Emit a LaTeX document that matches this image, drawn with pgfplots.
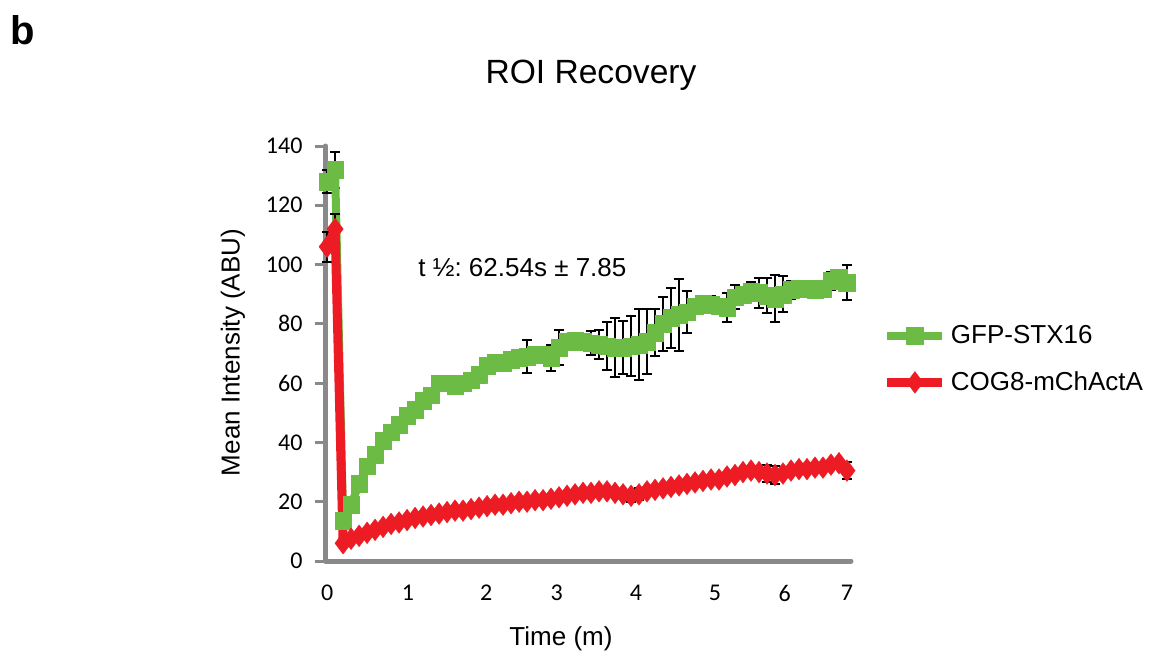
\documentclass[border=0pt]{standalone}
\usepackage{fontspec}
\setmainfont{Liberation Sans}
\newfontfamily\carlito{Carlito}
\usepackage{pgfplots}
\usepackage{pgfplotstable}
\pgfplotsset{compat=1.18}

\definecolor{stxgreen}{RGB}{108,187,69}
\definecolor{cogred}{RGB}{237,28,36}
\definecolor{axgray}{RGB}{137,137,137}

% i = time point index (the sheet's category axis), g/r = mean, ge/re = error
\pgfplotstableread{
i  g     ge   r     re
0  128   4    106   5
1  132   6    112   5
2  13.5  1.5  6     1
3  19    1.5  7.5   1
4  26    1.5  8.5   1
5  32    1.5  9.5   1
6  36    1.5  10.5  1
7  40.5  1.5  11.5  1
8  43.5  1.5  12.5  1
9  46    1.5  13    1
10 49    1.5  13.8  1
11 51    1.5  14.5  1
12 54    1.5  15    1
13 56    1.5  15.5  1
14 60    1.5  16    1
15 60    1.5  16.5  1
16 59    1.5  17    1
17 60    1.5  17    1
18 61    1.5  17.5  1
19 63    1.5  18    1
20 66    1.5  18.5  1
21 67    1.5  19    1
22 67    1.5  19    1
23 68    2    19.5  1
24 68.5  1.5  20    1
25 69    5.5  20    1
26 69.5  1.5  20.5  1
27 69.5  2    20.5  1
28 68.5  4.5  21    1
29 72    6    21.5  1
30 74    1.5  22    1
31 74.5  2    22.5  1
32 74    2    23    1
33 73.5  4    23    1
34 73    5    23.5  1
35 72.5  8    23.5  1
36 72    10   23    1
37 72    9    22.5  1
38 72.5  10   22    2
39 73    12   22.5  2
40 74    11   23.5  1
41 77    8    24    1
42 80    9    24.5  1
43 82    10   25    1
44 83    12   25.5  1
45 84    7    26    1
46 86    2    26.5  1
47 87    2    27    1
48 86.5  3    27.5  1
49 86    2    27.5  1
50 85.5  5    28.5  1
51 89    4    29    1
52 90    2    30    1
53 91    3    30.5  1
54 90.5  5    30    1
55 89.5  6    29.5  3
56 88.5  8    29    3
57 90    6    29.5  1
58 91.5  3    30.5  1
59 92    2    31    1
60 92    2    31    1
61 91.5  2    31.5  1
62 92    2    31.5  1
63 94.5  3    32.5  1
64 95.5  2    33    1
65 94    6    30.5  3
}\roidata

\begin{document}
\begin{tikzpicture}
\path[use as bounding box] (0,0) rectangle (576.5pt,327pt);

\begin{axis}[
  at={(162.75pt,46.5pt)}, anchor=south west,
  scale only axis, width=262.75pt, height=207.5pt,
  xmin=-0.2, xmax=65.5, ymin=0, ymax=140,
  ytick={0,20,...,140},
  xtick={0,10.1,19.9,28.7,38.6,48.5,57.2,65},
  xticklabels={0,1,2,3,4,5,6,7},
  axis x line=bottom, axis y line=left,
  axis line style={-, draw=axgray, line width=2.5pt, line cap=round},
  tick align=outside, major tick length=5.5pt,
  ytick style={draw=axgray, line width=1.5pt},
  xtick style={draw=none},
  ticklabel style={font=\carlito\fontsize{12}{14}\selectfont, text=black},
  yticklabel style={xshift=-2.5pt},
  xticklabel style={yshift=-3pt},
  /pgf/number format/assume math mode=true,
  clip=false,
  legend style={at={(axis description cs:1.0600,0.4860)}, anchor=west,
    draw=none, fill=none, inner sep=0pt, row sep=8.5pt,
    font=\fontsize{13}{15}\selectfont},
  legend cell align=left,
  legend image code/.code={\draw[mark repeat=2,mark phase=2,#1]
    plot coordinates {(0pt,0pt) (13.75pt,0pt) (27.5pt,0pt)};},
]
\addplot[forget plot, draw=none, mark=none,
  error bars/.cd, y dir=both, y explicit,
  error bar style={black, line width=1pt},
  error mark options={rotate=90, black, line width=1pt, mark size=2.5pt}]
  table[x=i, y=g, y error=ge] {\roidata};
\addplot[stxgreen, line width=4pt, line join=round, mark=square*, mark size=4.2pt,
  mark options={stxgreen, line width=0.1pt}]
  table[x=i, y=g] {\roidata};
\addlegendentry{GFP-STX16}

\addplot[forget plot, draw=none, mark=none,
  error bars/.cd, y dir=both, y explicit,
  error bar style={black, line width=1pt},
  error mark options={rotate=90, black, line width=1pt, mark size=2.5pt}]
  table[x=i, y=r, y error=re] {\roidata};
\addplot[cogred, line width=4.5pt, line join=round, mark=diamond*, mark size=5.5pt,
  mark options={cogred, line width=0.1pt}]
  table[x=i, y=r] {\roidata};
\addlegendentry{COG8-mChActA}
\end{axis}

\node[anchor=base west, inner sep=0pt, font=\bfseries\fontsize{20}{24}\selectfont] at (5pt,304.5pt) {b};
\node[anchor=base, inner sep=0pt, font=\fontsize{16.8}{20}\selectfont] at (295.5pt,285pt) {ROI Recovery};
\node[rotate=90, inner sep=0pt, font=\fontsize{13}{15}\selectfont] at (116.5pt,150.75pt) {Mean Intensity (ABU)};
\node[anchor=base, inner sep=0pt, font=\fontsize{13}{15}\selectfont] at (280.5pt,4pt) {Time (m)};
\node[anchor=base west, inner sep=0pt, font=\fontsize{13}{15}\selectfont] at (209pt,188.5pt) {\frenchspacing t ½: 62.54s ± 7.85};
\end{tikzpicture}
\end{document}
